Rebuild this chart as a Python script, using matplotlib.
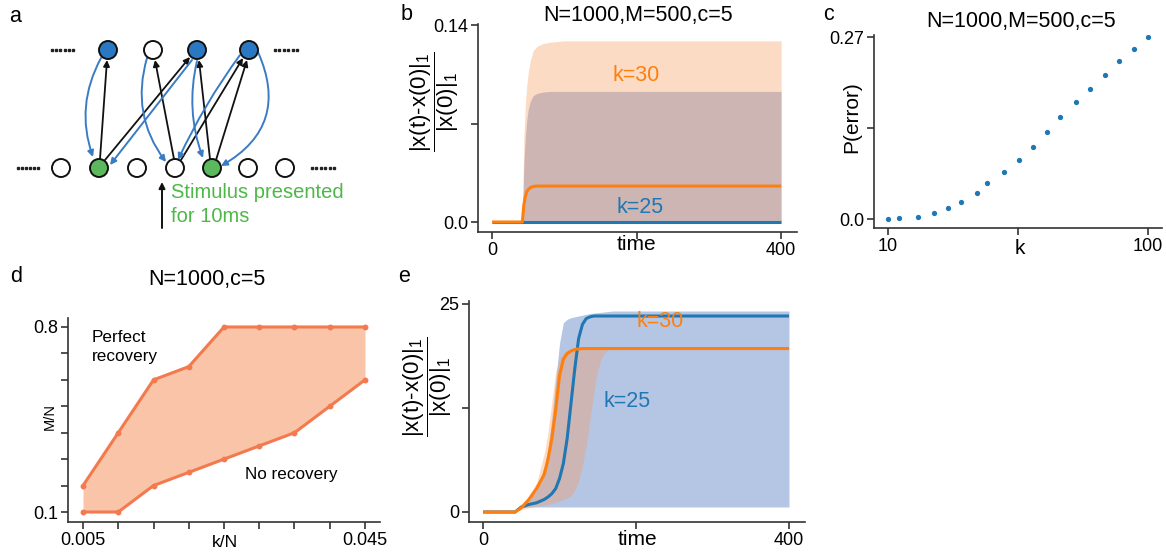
import numpy as np
import matplotlib
matplotlib.use('Agg')
import matplotlib.pyplot as plt
from matplotlib.patches import Circle, FancyArrowPatch

plt.rcParams['font.family'] = ['Liberation Sans', 'DejaVu Sans']
plt.rcParams['mathtext.fontset'] = 'custom'
plt.rcParams['mathtext.rm'] = 'Liberation Sans'
plt.rcParams['mathtext.it'] = 'Liberation Sans'
plt.rcParams['mathtext.default'] = 'regular'

# ---------------- data ----------------
# panel b
b_time = [0, 42, 44, 46, 48, 50, 53, 57, 62, 70, 80, 100, 400]
b_k30_mean = [0, 0, 0.012, 0.018, 0.0215, 0.023, 0.0245, 0.0253, 0.0256, 0.0256, 0.0256, 0.0256, 0.0256]
b_k30_upper = [0, 0, 0.060, 0.083, 0.097, 0.106, 0.115, 0.122, 0.125, 0.127, 0.128, 0.129, 0.129]
b_k30_lower = [0, 0, 0, 0, 0, 0, 0, 0, 0, 0, 0, 0, 0]
b_k25_mean = [0, 0, 0, 0, 0, 0, 0, 0, 0, 0, 0, 0, 0]
b_k25_upper = [0, 0, 0.040, 0.060, 0.072, 0.080, 0.086, 0.090, 0.0915, 0.0925, 0.093, 0.093, 0.093]
b_k25_lower = [0, 0, 0, 0, 0, 0, 0, 0, 0, 0, 0, 0, 0]

# panel c
c_k = [10, 11, 13, 15, 17, 19, 22, 24, 28, 32, 36, 41, 46, 53, 60, 68, 77, 88, 100]
c_perr = [0.0, 0.001, 0.0035, 0.0084, 0.016, 0.025, 0.038, 0.053, 0.070, 0.088,
          0.1075, 0.129, 0.152, 0.173, 0.193, 0.2135, 0.234, 0.252, 0.27]

# panel d
d_kN = [0.005, 0.010, 0.015, 0.020, 0.025, 0.030, 0.035, 0.040, 0.045]
d_upper = [0.2, 0.4, 0.6, 0.65, 0.8, 0.8, 0.8, 0.8, 0.8]
d_lower = [0.1, 0.1, 0.2, 0.25, 0.3, 0.35, 0.4, 0.5, 0.6]

# panel e
e_time = [0, 42, 50, 60, 70, 80, 85, 90, 95, 100, 105, 110, 115, 120, 125, 130,
          135, 140, 145, 150, 155, 160, 165, 170, 180, 400]
e_k25_mean = [0, 0, 0.6, 0.9, 1.1, 1.5, 1.8, 2.2, 2.8, 4.0, 5.8, 8.8, 13.0, 17.2, 20.8, 22.5,
              23.2, 23.4, 23.5, 23.5, 23.5, 23.5, 23.5, 23.5, 23.5, 23.5]
e_k25_upper = [0, 0, 0.8, 1.6, 2.6, 5.5, 7.6, 11.2, 15.8, 20.2, 22.7, 23.1, 23.3, 23.4, 23.5, 23.6,
               23.7, 23.8, 23.85, 23.9, 23.95, 24.0, 24.05, 24.1, 24.1, 24.1]
e_k25_lower = [0, 0, 0.5, 0.6, 0.6, 0.6, 0.6, 0.6, 0.6, 0.6, 0.6, 0.6, 0.6, 0.6, 0.6, 0.6,
               0.6, 0.6, 0.6, 0.6, 0.6, 0.6, 0.6, 0.6, 0.6, 0.6]
e_k30_mean = [0, 0, 0.5, 1.5, 2.8, 4.5, 6.3, 8.8, 12.2, 16.3, 18.3, 19.0, 19.3, 19.5, 19.55, 19.6,
              19.6, 19.6, 19.6, 19.6, 19.6, 19.6, 19.6, 19.6, 19.6, 19.6]
e_k30_upper = [0, 0, 0.8, 2.0, 3.5, 7.0, 9.6, 13.3, 16.8, 18.4, 19.1, 19.4, 19.6, 19.6, 19.6, 19.6,
               19.6, 19.6, 19.6, 19.6, 19.6, 19.6, 19.6, 19.6, 19.6, 19.6]
e_k30_lower = [0, 0, 0.3, 0.5, 0.7, 0.8, 0.9, 1.0, 1.15, 1.3, 1.5, 1.7, 1.9, 2.6, 3.7, 5.5,
               8.0, 11.2, 14.5, 17.0, 18.5, 19.2, 19.5, 19.6, 19.6, 19.6]

# ---------------- style ----------------
W, H = 1166, 552
BLUE = '#1f77b4'
ORANGE = '#ff7f0e'
BAND_BLUE = '#4671bc'
BAND_ORANGE = '#f99856'
D_LINE = '#f27a4e'
D_FILL = '#f9c4a8'
SPINE = '#333333'
TICK_FS = 13
LAB_FS = 15
TITLE_FS = 15.5

fig = plt.figure(figsize=(W / 100, H / 100), dpi=100)


def px_axes(left, top, right, bottom):
    return fig.add_axes([left / W, 1 - bottom / H, (right - left) / W, (bottom - top) / H])


def style(ax):
    for s in ['top', 'right']:
        ax.spines[s].set_visible(False)
    for s in ['left', 'bottom']:
        ax.spines[s].set_linewidth(1.2)
        ax.spines[s].set_color(SPINE)
    ax.tick_params(direction='out', length=5, width=1.2, color=SPINE,
                   labelsize=TICK_FS, pad=2)
    ax.patch.set_alpha(0)


def fig_text(x, y, s, **kw):
    fig.text(x / W, 1 - y / H, s, **kw)


frac_label = r'$\dfrac{|x(t)\text{-}x(0)|_1}{|x(0)|_1}$'

# ---------------- panel a ----------------
axa = px_axes(0, 0, 340, 240)
axa.set_xlim(0, 340)
axa.set_ylim(240, 0)
axa.axis('off')
NODE_BLUE = '#2b78c2'
NODE_GREEN = '#5cb85c'
ARROW_BLUE = '#3a7cc4'
top_nodes = [(108, NODE_BLUE), (153, 'white'), (197, NODE_BLUE), (249, NODE_BLUE)]
bot_nodes = [(61, 'white'), (99, NODE_GREEN), (137, 'white'), (175, 'white'),
             (212, NODE_GREEN), (248, 'white'), (285, 'white')]
for x, c in top_nodes:
    axa.add_patch(Circle((x, 50), 9, facecolor=c, edgecolor='#111111', lw=1.4, zorder=3))
for x, c in bot_nodes:
    axa.add_patch(Circle((x, 168), 9, facecolor=c, edgecolor='#111111', lw=1.4, zorder=3))
for x0, x1, y in [(52, 73, 50), (275, 297, 50), (18, 38, 168), (312, 334, 168)]:
    axa.plot(np.linspace(x0, x1, 6), [y] * 6, ls='none', marker='s', ms=1.6,
             color='#222222')

black_arrows = [((100, 159), (107, 60)), ((105, 160), (190, 57)), ((174, 159), (155, 60)),
                ((181, 160), (243, 58)), ((210, 159), (199, 60)), ((216, 160), (247, 60))]
for a, b in black_arrows:
    axa.add_patch(FancyArrowPatch(a, b, arrowstyle='-|>', mutation_scale=9, lw=1.3,
                                  color='#111111', shrinkA=0, shrinkB=0, zorder=2))
blue_arrows = [((101, 58), (93, 157), 0.22), ((147, 58), (166, 162), 0.25),
               ((192, 60), (110, 165), 0.0), ((197, 61), (203, 158), 0.15),
               ((240, 55), (178, 160), 0.05), ((258, 52), (221, 166), -0.45)]
for a, b, r in blue_arrows:
    axa.add_patch(FancyArrowPatch(a, b, arrowstyle='-|>', mutation_scale=9, lw=1.4,
                                  color=ARROW_BLUE, shrinkA=0, shrinkB=0,
                                  connectionstyle=f'arc3,rad={r}', zorder=2))
axa.add_patch(FancyArrowPatch((162, 228), (162, 182), arrowstyle='-|>', mutation_scale=9,
                              lw=1.4, color='#111111', shrinkA=0, shrinkB=0))
axa.text(171, 193, 'Stimulus presented', color='#4db848', fontsize=14.5, va='center', ha='left')
axa.text(171, 217, 'for 10ms', color='#4db848', fontsize=14.5, va='center', ha='left')

# ---------------- panel b ----------------
axb = px_axes(478, 24, 797, 232)
style(axb)
axb.fill_between(b_time, b_k25_lower, b_k25_upper, color=BAND_BLUE, alpha=0.4, lw=0)
axb.fill_between(b_time, b_k30_lower, b_k30_upper, color=BAND_ORANGE, alpha=0.35, lw=0)
axb.plot(b_time, b_k25_mean, color=BLUE, lw=2.2, solid_capstyle='butt')
axb.plot(b_time, b_k30_mean, color=ORANGE, lw=2.2, solid_capstyle='butt')
axb.set_xlim(-19.4, 422)
axb.set_ylim(-0.0071, 0.141)
axb.set_xticks([0, 200, 400], ['0', '', '400'])
axb.set_yticks([0, 0.07, 0.14], ['0.0', '', '0.14'])
axb.set_xlabel('time', fontsize=LAB_FS)
axb.xaxis.label.set_va('center')
axb.xaxis.set_label_coords(0.498, -0.0625)
axb.set_ylabel(frac_label, fontsize=16)
axb.yaxis.label.set_va('center')
axb.yaxis.set_label_coords(-0.135, 0.625)
axb.text(200, 0.1045, 'k=30', color=ORANGE, fontsize=15.5, ha='center', va='center')
axb.text(205, 0.0106, 'k=25', color=BLUE, fontsize=15.5, ha='center', va='center')
fig_text(638, 15, 'N=1000,M=500,c=5', fontsize=TITLE_FS, ha='center', va='center')

# ---------------- panel c ----------------
axc = px_axes(874, 35, 1162, 228)
style(axc)
axc.set_xscale('log')
axc.plot(c_k, c_perr, ls='none', marker='o', ms=3.8, color=BLUE, mew=0)
axc.set_xlim(8.83, 113)
axc.set_ylim(-0.01335, 0.273)
axc.set_xticks([10, 31.62, 100], ['10', '', '100'])
axc.xaxis.set_minor_locator(matplotlib.ticker.NullLocator())
axc.set_yticks([0, 0.135, 0.27], ['0.0', '', '0.27'])
axc.set_xlabel('k', fontsize=LAB_FS)
axc.xaxis.label.set_va('center')
axc.xaxis.set_label_coords(0.507, -0.104)
axc.set_ylabel('P(error)', fontsize=LAB_FS)
axc.yaxis.label.set_va('center')
axc.yaxis.set_label_coords(-0.076, 0.575)
fig_text(1021, 22, 'N=1000,M=500,c=5', fontsize=TITLE_FS, ha='center', va='center')

# ---------------- panel d ----------------
axd = px_axes(68, 318, 380, 522)
style(axd)
axd.fill_between(d_kN, d_lower, d_upper, color=D_FILL, lw=0)
axd.plot(d_kN, d_upper, color=D_LINE, lw=2.2, marker='o', ms=3.2)
axd.plot(d_kN, d_lower, color=D_LINE, lw=2.2, marker='o', ms=3.2)
axd.set_xlim(0.00287, 0.04713)
axd.set_ylim(0.0622, 0.834)
axd.set_xticks(d_kN, ['0.005', '', '', '', '', '', '', '', '0.045'])
axd.set_yticks([0.1, 0.2, 0.3, 0.4, 0.5, 0.6, 0.7, 0.8],
               ['0.1', '', '', '', '', '', '', '0.8'])
axd.set_xlabel('k/N', fontsize=12.5)
axd.xaxis.label.set_va('center')
axd.xaxis.set_label_coords(0.503, -0.1)
axd.set_ylabel('M/N', fontsize=10.5)
axd.yaxis.label.set_va('center')
axd.yaxis.set_label_coords(-0.058, 0.515)
fig_text(92, 347, 'Perfect\nrecovery', fontsize=12.3, ha='left', va='center', linespacing=1.25)
fig_text(245, 475, 'No recovery', fontsize=12.3, ha='left', va='center')
fig_text(207, 280, 'N=1000,c=5', fontsize=TITLE_FS, ha='center', va='center')

# ---------------- panel e ----------------
axe = px_axes(469, 301, 805, 522)
style(axe)
axe.fill_between(e_time, e_k25_lower, e_k25_upper, color=BAND_BLUE, alpha=0.4, lw=0)
axe.fill_between(e_time, e_k30_lower, e_k30_upper, color=BAND_ORANGE, alpha=0.35, lw=0)
axe.plot(e_time, e_k25_mean, color=BLUE, lw=2.2, solid_capstyle='butt')
axe.plot(e_time, e_k30_mean, color=ORANGE, lw=2.2, solid_capstyle='butt')
axe.set_xlim(-18.3, 420.9)
axe.set_ylim(-1.2, 25.3)
axe.set_xticks([0, 200, 400], ['0', '', '400'])
axe.set_yticks([0, 12.5, 25], ['0', '', '25'])
axe.set_xlabel('time', fontsize=LAB_FS)
axe.xaxis.label.set_va('center')
axe.xaxis.set_label_coords(0.5, -0.081)
axe.set_ylabel(frac_label, fontsize=16)
axe.yaxis.label.set_va('center')
axe.yaxis.set_label_coords(-0.122, 0.611)
axe.text(231, 22.8, 'k=30', color=ORANGE, fontsize=15.5, ha='center', va='center')
axe.text(188, 13.2, 'k=25', color=BLUE, fontsize=15.5, ha='center', va='center')

# panel letters
for lab, x, y in [('a', 15, 16), ('b', 407, 14), ('c', 829, 14), ('d', 16, 276), ('e', 404, 276)]:
    fig_text(x, y, lab, fontsize=15.5, ha='center', va='center')

fig.savefig('out.png', dpi=100)
